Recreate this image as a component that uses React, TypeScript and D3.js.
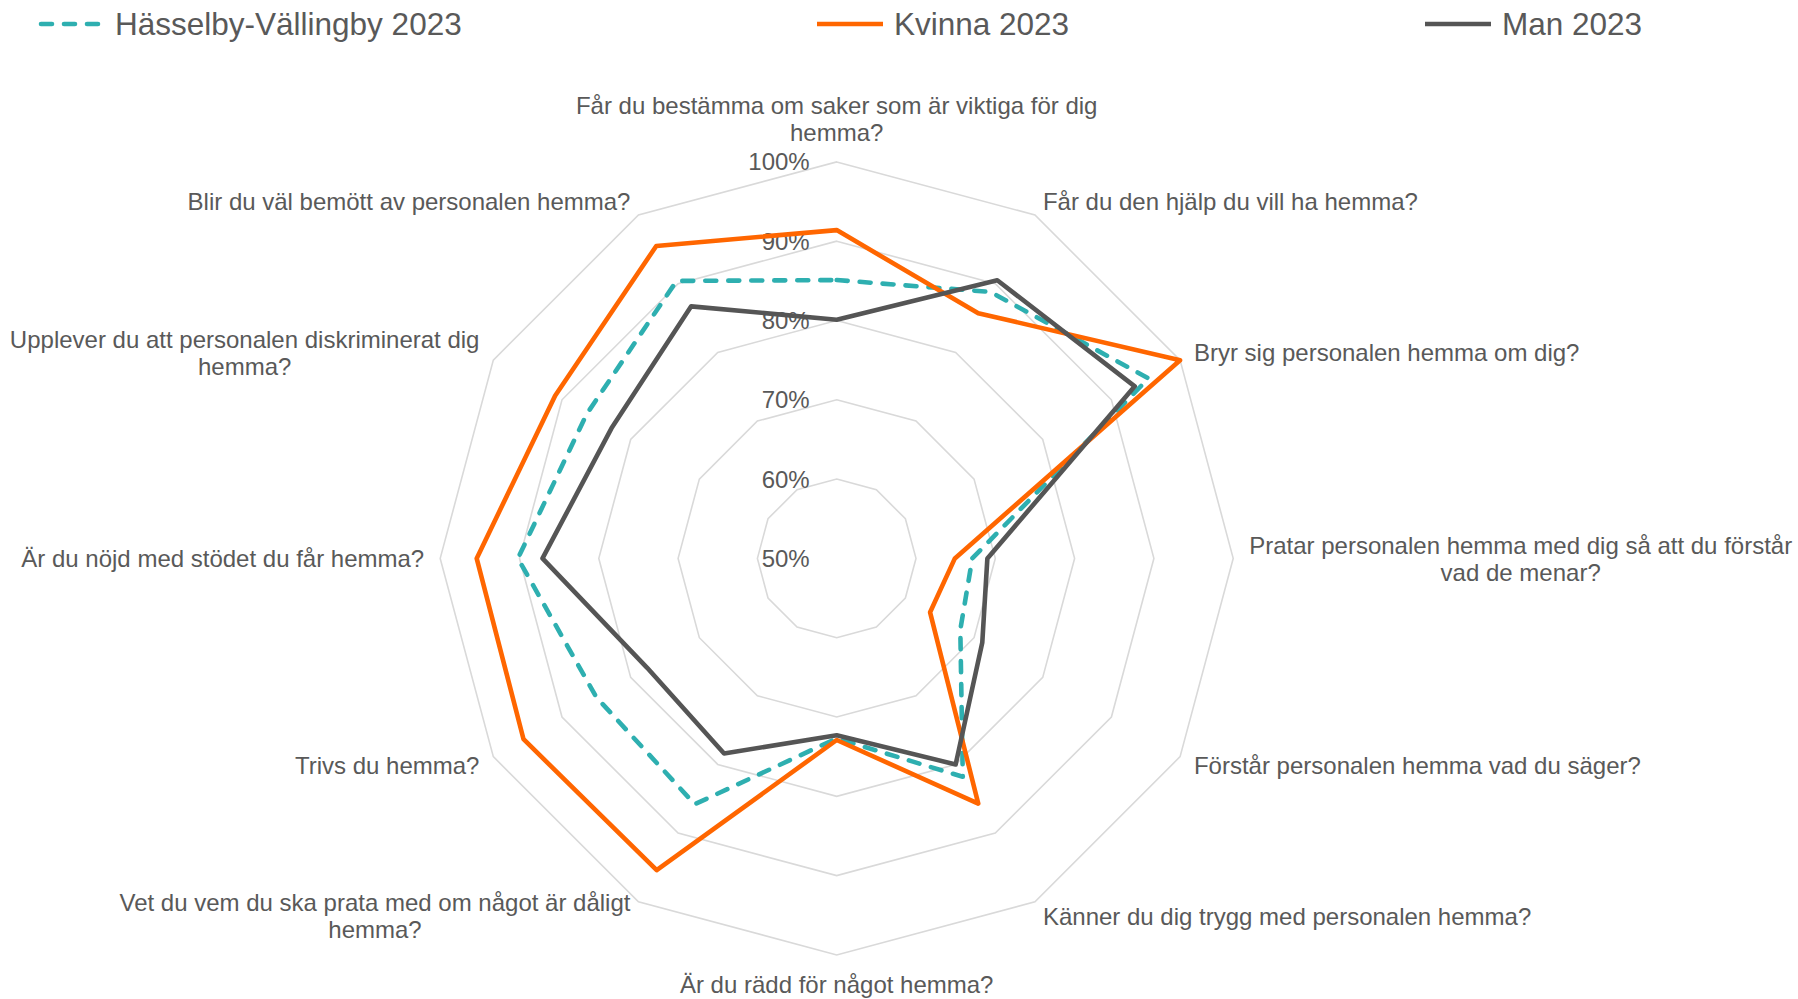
import React, { useEffect, useRef } from 'react';
import * as d3 from 'd3';

// categories clockwise from the top, "\n" marks where the label wraps
const categories = [
  'Får du bestämma om saker som är viktiga för dig\nhemma?',
  'Får du den hjälp du vill ha hemma?',
  'Bryr sig personalen hemma om dig?',
  'Pratar personalen hemma med dig så att du förstår\nvad de menar?',
  'Förstår personalen hemma vad du säger?',
  'Känner du dig trygg med personalen hemma?',
  'Är du rädd för något hemma?',
  'Vet du vem du ska prata med om något är dåligt\nhemma?',
  'Trivs du hemma?',
  'Är du nöjd med stödet du får hemma?',
  'Upplever du att personalen diskriminerat dig\nhemma?',
  'Blir du väl bemött av personalen hemma?',
];

const hasselby = [85.1, 88.8, 95.4, 67.1, 68.0, 81.8, 72.7, 85.8, 85.0, 90.2, 86.4, 90.4];
const kvinna = [91.4, 85.7, 100.0, 64.9, 63.6, 85.7, 72.9, 95.4, 95.6, 95.4, 91.0, 95.5];
const man = [80.1, 90.5, 93.4, 69.0, 71.2, 80.0, 72.3, 78.4, 77.6, 87.1, 82.8, 86.7];

const seriesNames = ['Hässelby-Vällingby 2023', 'Kvinna 2023', 'Man 2023'];
const ticks = [50, 60, 70, 80, 90, 100];

const W = 1798, H = 999;
const cx = 836.7, cy = 558.4, R = 396.5;
const font = '"Liberation Sans", Arial, sans-serif';
const textColor = '#595959';

export default function App() {
  const ref = useRef<SVGSVGElement>(null);

  useEffect(() => {
    document.body.style.margin = '0';
    const svg = d3.select(ref.current);
    svg.selectAll('*').remove();

    const r = d3.scaleLinear().domain([50, 100]).range([0, R]);
    const angle = d3.scaleLinear().domain([0, categories.length]).range([0, 2 * Math.PI]);

    const g = svg.append('g').attr('transform', `translate(${cx},${cy})`);

    // grid rings
    const ring = d3.lineRadial<number>()
      .angle((_, i) => angle(i))
      .radius(d => r(d))
      .curve(d3.curveLinearClosed);
    ticks.filter(t => t > 50).forEach(t => {
      g.append('path')
        .attr('d', ring(categories.map(() => t)))
        .attr('fill', 'none')
        .attr('stroke', '#d9d9d9')
        .attr('stroke-width', 1.6);
    });

    // tick labels
    g.selectAll('text.tick')
      .data(ticks)
      .join('text')
      .attr('class', 'tick')
      .attr('x', -27)
      .attr('y', d => -r(d))
      .attr('text-anchor', 'end')
      .attr('dominant-baseline', 'central')
      .attr('font-family', font)
      .attr('font-size', 24)
      .attr('fill', textColor)
      .text(d => d + '%');

    // series
    const series = [
      { name: seriesNames[0], values: hasselby, color: '#2eafb0', dash: '11 12' },
      { name: seriesNames[1], values: kvinna, color: '#ff6600', dash: null },
      { name: seriesNames[2], values: man, color: '#555555', dash: null },
    ];
    const line = d3.lineRadial<number>()
      .angle((_, i) => angle(i))
      .radius(d => r(d))
      .curve(d3.curveLinearClosed);
    series.forEach(s => {
      g.append('path')
        .attr('d', line(s.values))
        .attr('fill', 'none')
        .attr('stroke', s.color)
        .attr('stroke-width', 4.6)
        .attr('stroke-linejoin', 'round')
        .attr('stroke-linecap', s.dash ? 'round' : 'butt')
        .attr('stroke-dasharray', s.dash);
    });

    // category labels
    const lh = 27;
    categories.forEach((c, i) => {
      const a = angle(i);
      const sin = Math.sin(a), cos = Math.cos(a);
      const px = (r(100) + 16) * sin;
      const py = -(r(100) + 16) * cos;
      const lines = c.split('\n');
      const t = g.append('text')
        .attr('font-family', font)
        .attr('font-size', 24)
        .attr('fill', textColor)
        .attr('dominant-baseline', 'central')
        .attr('text-anchor', 'middle');
      const spans = lines.map(l => t.append('tspan').text(l));
      const widths = spans.map(sp => (sp.node() as SVGTSpanElement).getComputedTextLength());
      const bw = Math.max(...widths);
      let mx: number, top: number;
      if (Math.abs(sin) < 0.01) {
        mx = px;
        top = cos > 0 ? py - lines.length * lh : py;
      } else {
        mx = sin > 0 ? px + bw / 2 : px - bw / 2;
        top = py - (lines.length * lh) / 2;
      }
      spans.forEach((sp, j) => sp.attr('x', mx).attr('y', top + lh / 2 + j * lh));
    });

    // legend
    const legendX = [38, 817, 1425];
    const leg = svg.append('g').attr('transform', 'translate(0,24)');
    series.forEach((s, i) => {
      leg.append('line')
        .attr('x1', legendX[i] + (s.dash ? 3 : 0))
        .attr('x2', legendX[i] + 66)
        .attr('stroke', s.color)
        .attr('stroke-width', 4.6)
        .attr('stroke-linecap', s.dash ? 'round' : 'butt')
        .attr('stroke-dasharray', s.dash);
      leg.append('text')
        .attr('x', legendX[i] + 77)
        .attr('dominant-baseline', 'central')
        .attr('font-family', font)
        .attr('font-size', 31.5)
        .attr('fill', textColor)
        .text(s.name);
    });
  }, []);

  return <svg ref={ref} width={W} height={H} style={{ display: 'block', background: '#fff' }} />;
}
